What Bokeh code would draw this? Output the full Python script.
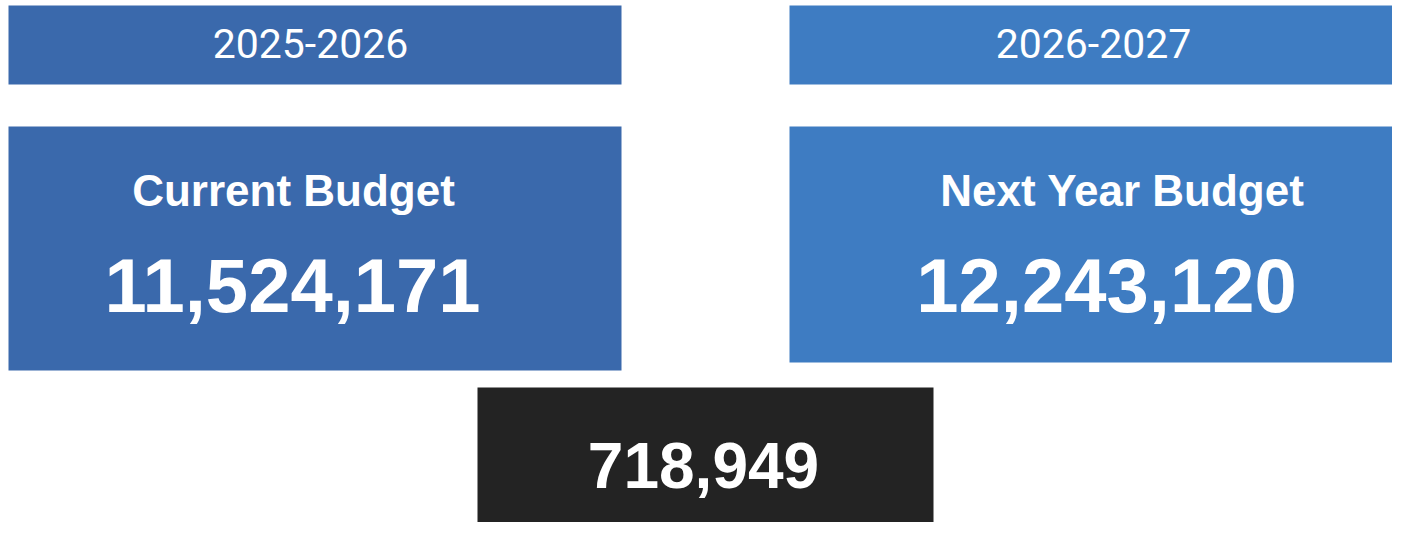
from bokeh.plotting import figure
from bokeh.models import Range1d, ColumnDataSource
from bokeh.core.properties import value
from bokeh.embed import file_html
from bokeh.resources import INLINE

# ---- data ----
periods = ["2025-2026", "2026-2027"]
titles = ["Current Budget", "Next Year Budget"]
budgets = [11524171, 12243120]
difference = 718949

# ---- layout (page pixel coordinates) ----
colors = ["#3a69ac", "#3e7cc2"]
hdr_left = [8, 789]
hdr_right = [621, 1402]
hdr_top = [5, 5]
hdr_bottom = [84, 84]
card_left = [8, 789]
card_right = [621, 1405]
card_top = [126, 126]
card_bottom = [370, 362]
year_x = [310, 1093]
title_x = [293, 1122]
num_x = [292, 1106]

p = figure(width=1392, height=522, output_backend="svg", toolbar_location=None,
           x_range=Range1d(0, 1392), y_range=Range1d(522, 0),
           min_border=0, background_fill_color="white", border_fill_color="white")
p.axis.visible = False
p.grid.visible = False
p.outline_line_color = None

src = ColumnDataSource(dict(
    hl=hdr_left, hr=hdr_right, ht=hdr_top, hb=hdr_bottom,
    cl=card_left, cr=card_right, ct=card_top, cb=card_bottom,
    color=colors, year=periods, title=titles,
    num=[f"{v:,}" for v in budgets],
    yx=year_x, tx=title_x, nx=num_x,
    yy=[43, 43], ty=[190, 190], ny=[285, 285],
))

p.quad(left="hl", right="hr", top="ht", bottom="hb", fill_color="color",
       line_color=None, source=src)
p.quad(left="cl", right="cr", top="ct", bottom="cb", fill_color="color",
       line_color=None, source=src)

p.text(x="yx", y="yy", text="year", source=src, text_color="white",
       text_font=value("Roboto"), text_font_size="41px",
       text_align="center", text_baseline="alphabetic")
p.text(x="tx", y="ty", text="title", source=src, text_color="white",
       text_font=value("Liberation Sans"), text_font_style="bold",
       text_font_size="44px", text_align="center", text_baseline="alphabetic")
p.text(x="nx", y="ny", text="num", source=src, text_color="white",
       text_font=value("Liberation Sans"), text_font_style="bold",
       text_font_size="76px", text_align="center", text_baseline="alphabetic")

# difference card
p.quad(left=[477], right=[933], top=[387], bottom=[545], fill_color="#232323",
       line_color=None)
p.text(x=[703], y=[465], text=[f"{difference:,}"], text_color="white",
       text_font=value("Liberation Sans"), text_font_style="bold",
       text_font_size="64px", text_align="center", text_baseline="alphabetic")

open("out.html", "w").write(file_html(p, INLINE))
